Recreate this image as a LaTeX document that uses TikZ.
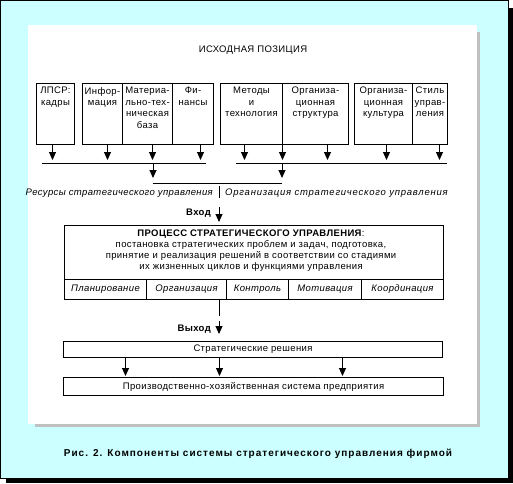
\documentclass[tikz,border=0pt]{standalone}
\usepackage{fontspec}
\setmainfont{Liberation Sans}[LetterSpace=4]
\usepackage{tikz}
\usetikzlibrary{arrows.meta,calc,positioning}
\definecolor{ColBack}{RGB}{204,255,255}
\definecolor{ColShade}{RGB}{192,192,192}

\begin{document}
\begin{tikzpicture}[
  x=1pt, y=-1pt,
  >={Triangle[length=8pt,width=7pt]},
  every node/.style={font=\fontsize{9.5}{11.5}\selectfont, inner sep=0pt},
  cell/.style={draw, line width=1pt, anchor=north west, minimum height=61pt},
  celltext/.style={anchor=north, align=center},
  rowcell/.style={draw, line width=1pt, anchor=north west, minimum height=20pt,
                  font=\fontsize{9.5}{11.5}\selectfont\itshape},
  longbox/.style={draw, line width=1pt, anchor=north west, minimum width=379pt},
  link/.style={->, line width=1pt},
  wire/.style={line width=1pt}
]
  \useasboundingbox (0,0) rectangle (513,483);

  % Frame with black shadow
  \fill[black] (6,8) rectangle (513,483);
  \filldraw[fill=ColBack, draw=black, line width=1pt] (0.5,0.5) rectangle (508,478);

  % White sheet with grey shadow
  \fill[ColShade] (35,32) rectangle (480,427);
  \fill[white] (28,25) rectangle (477,424);

  \node (head) at (253,50) {ИСХОДНАЯ ПОЗИЦИЯ};

  % Top row of cells: name / left / width / text
  \foreach \nm/\lx/\cw/\txt in {
      kadry/36/38/{ЛПСР:\\кадры},
      info/82/40/{Инфор-\\мация},
      mtb/122/50/{Материа-\\льно-тех-\\ническая\\база},
      fin/172/41/{Фи-\\нансы},
      metody/220/62/{Методы\\и\\технология},
      struct/282/66/{Организа-\\ционная\\структура},
      kultura/354/58/{Организа-\\ционная\\культура},
      stil/412/35/{Стиль\\управ-\\ления}}{
    \node[cell, minimum width=\cw pt] (\nm) at (\lx,83) {};
    \node[celltext] (\nm-t) at ([yshift=-4pt]\nm.north) {\txt};
  }

  % Two buses under the cells
  \coordinate (busL-w) at (42,163);
  \coordinate (busL-e) at (206,163);
  \coordinate (busR-w) at (236,163);
  \coordinate (busR-e) at (447,163);
  \draw[wire] (busL-w) -- (busL-e);
  \draw[wire] (busR-w) -- (busR-e);

  % Cells feed the buses
  \foreach \nm/\dx/\bus in {kadry/-3/busL, info/5/busL, mtb/5/busL, fin/7.5/busL,
      metody/-7/busR, struct/-33/busR, struct/12/busR, kultura/3/busR, stil/9.5/busR}{
    \draw[link, shorten >=3pt] ([xshift=\dx pt]\nm.south) -- ([xshift=\dx pt]\nm.south |- \bus-w);
  }

  % Buses join into the input
  \coordinate (join-w) at (153,183);
  \coordinate (join-e) at (282,183);
  \draw[link, shorten >=5pt] (join-w |- busL-w) -- (join-w);
  \draw[link, shorten >=5pt] (join-e |- busR-w) -- (join-e);
  \draw[wire] (join-w) -- (join-e);

  \coordinate (axis) at (219,0);
  \coordinate (sep-top) at (219,186);
  \coordinate (sep-bot) at (219,198);
  \draw[wire] (sep-top) -- (sep-bot);
  \node[anchor=east, font=\fontsize{9.5}{11.5}\selectfont\itshape] (res)
    at ([xshift=-6pt,yshift=5pt]sep-bot) {Ресурсы стратегического управления};
  \node[anchor=west, font=\fontsize{9.5}{11.5}\selectfont\itshape\addfontfeature{LetterSpace=8}] (org)
    at ([xshift=6pt,yshift=5pt]sep-bot) {Организация стратегического управления};

  % Process box
  \node[longbox, minimum height=74pt] (proc) at (64,225) {};
  \node[anchor=north, align=center, font=\fontsize{9.5}{10.8}\selectfont] (proc-t)
    at ([xshift=-3pt,yshift=-5pt]proc.north)
    {\textbf{ПРОЦЕСС СТРАТЕГИЧЕСКОГО УПРАВЛЕНИЯ}:\\
     постановка стратегических проблем и задач, подготовка,\\
     принятие и реализация решений в соответствии со стадиями\\
     их жизненных циклов и функциями управления};
  \foreach \nm/\lx/\cw/\txt in {
      plan/64/82/Планирование,
      orgn/146/80/Организация,
      ctrl/226/62/Контроль,
      motv/288/73/Мотивация,
      coord/361/82/Координация}{
    \node[rowcell, minimum width=\cw pt] (\nm) at (\lx,279) {\txt};
  }

  % Input and output
  \coordinate (in-start) at (219,207);
  \draw[link, shorten >=3pt] (in-start) -- (in-start |- proc.north);
  \node[anchor=east, font=\fontsize{9.5}{11.5}\selectfont\bfseries] (vhod) at (211,213) {Вход};

  \node[longbox, minimum height=16pt] (sol) at (63,341) {Стратегические решения};
  \node[longbox, minimum height=18pt, minimum width=380pt] (prod) at (63,377)
    {Производственно-хозяйственная система предприятия};

  \draw[link, dash pattern=on 16pt off 5pt on 40pt, shorten >=7pt]
    (axis |- proc.south) -- (axis |- sol.north);
  \node[anchor=east, font=\fontsize{9.5}{11.5}\selectfont\bfseries] (vyhod) at (211,329) {Выход};

  \foreach \dx in {-127.5, -33.5, 89.5}{
    \draw[link, shorten >=1pt] ([xshift=\dx pt]sol.south) -- ([xshift=\dx pt]sol.south |- prod.north);
  }

  \node[font=\fontsize{10}{12}\selectfont\bfseries\addfontfeature{LetterSpace=10}] (cap) at (258,454)
    {Рис. 2. Компоненты системы стратегического управления фирмой};
\end{tikzpicture}
\end{document}
